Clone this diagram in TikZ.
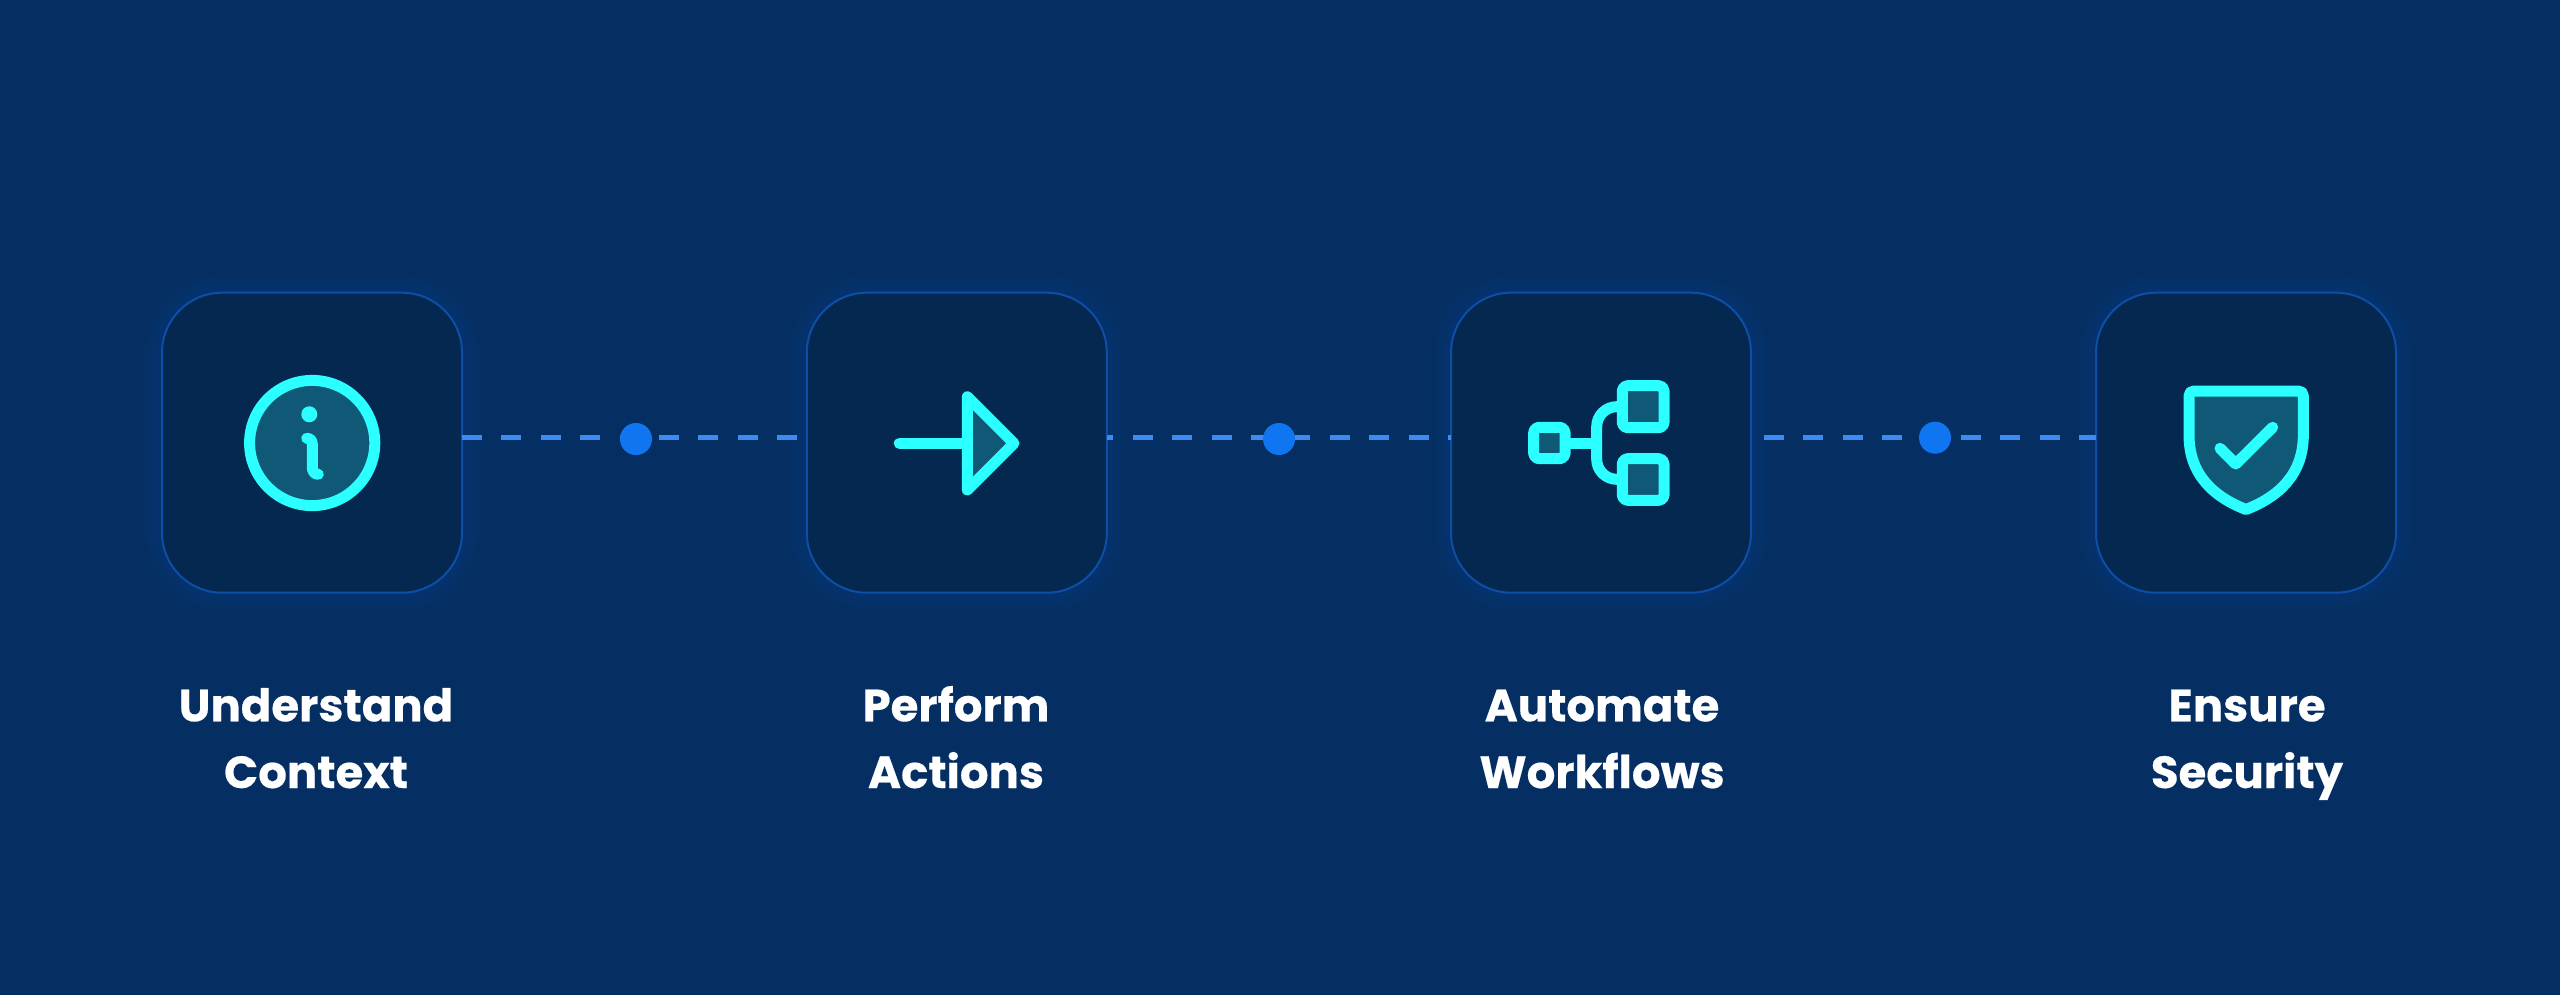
\documentclass[tikz,border=0pt]{standalone}
\usepackage{fontspec}
\setmainfont{Poppins}[BoldFeatures={FakeBold=0.4}]
\definecolor{pagebg}{HTML}{052F63}
\definecolor{tilefill}{HTML}{052850}
\definecolor{tileline}{HTML}{0D4EA6}
\definecolor{glowc}{HTML}{0A4CA8}
\definecolor{dashc}{HTML}{3D8BF0}
\definecolor{dotc}{HTML}{0F75F0}
\definecolor{iconc}{HTML}{2BFFFF}
\definecolor{icontint}{HTML}{0F5876}
\tikzset{
  tile/.style={rectangle, rounded corners=60pt, minimum width=300pt, minimum height=300pt,
    inner sep=0pt, outer sep=0pt, draw=tileline, line width=2pt, fill=tilefill,
    preaction={draw=glowc, line width=36pt, draw opacity=.05, fill opacity=0},
    preaction={draw=glowc, line width=26pt, draw opacity=.06, fill opacity=0},
    preaction={draw=glowc, line width=14pt, draw opacity=.07, fill opacity=0}},
  dashline/.style={draw=dashc, line width=5.5pt, dash pattern=on 20pt off 19.4pt},
  midpoint/.style={circle, fill=dotc, minimum size=32pt, inner sep=0pt, outer sep=0pt},
  iconline/.style={draw=iconc, line width=11pt, line cap=round, line join=round},
  iconshape/.style={iconline, fill=icontint},
  caption/.style={text=white, align=center, anchor=base, inner sep=0pt,
    font=\fontsize{45}{66.7}\selectfont\bfseries}
}
\begin{document}
\begin{tikzpicture}[x=1pt,y=-1pt]
\fill[pagebg] (0,0) rectangle (2560,995);
\useasboundingbox (0,0) rectangle (2560,995);
% tiles
\node[tile] (t1) at (312,442.7) {};
\node[tile] (t2) at (956.8,442.7) {};
\node[tile] (t3) at (1601,442.7) {};
\node[tile] (t4) at (2246,442.7) {};
% connectors
\draw[dashline] ([yshift=5pt]t1.east) -- ([yshift=5pt]t2.west);
\draw[dashline, dash phase=13.4pt] ([yshift=5pt]t2.east) -- ([yshift=5pt]t3.west);
\draw[dashline, dash phase=26.7pt] ([yshift=5pt]t3.east) -- ([yshift=5pt]t4.west);
\node[midpoint] (d1) at (636,439) {};
\node[midpoint] (d2) at (1279,439) {};
\node[midpoint] (d3) at (1935,437.7) {};
% info icon
\draw[iconshape] (312.2,443) circle[radius=62.6];
\fill[iconc] (309.3,414.3) circle[radius=8];
\draw[iconline] (306.7,438.3) .. controls (310,438.3) and (312.3,440.5) .. (312.3,444)
  -- (312.3,467) .. controls (312.3,471.5) and (314.5,474.3) .. (318.3,474.3);
% arrow icon
\draw[iconline] (899.3,443.3) -- (967.3,443.3);
\draw[iconshape] (967.3,396.7) -- (1014,443.3) -- (967.3,490) -- cycle;
% workflow icon
\draw[iconline] (1565,443.3) -- (1596.7,443.3);
\draw[iconline, line cap=butt] (1622,406.7) -- (1616.7,406.7)
  .. controls (1605.7,406.7) and (1596.7,415.7) .. (1596.7,426.7)
  -- (1596.7,459.3)
  .. controls (1596.7,470.3) and (1605.7,479.3) .. (1616.7,479.3) -- (1622,479.3);
\draw[iconshape, rounded corners=5pt] (1533.7,427.3) rectangle (1565,458.7);
\draw[iconshape, rounded corners=5pt] (1622.3,385.7) rectangle (1664,427.7);
\draw[iconshape, rounded corners=5pt] (1622.3,458.7) rectangle (1664,500.3);
% shield icon
\draw[iconshape] (2194,391) -- (2298.3,391)
  .. controls (2301.3,391) and (2303.3,393) .. (2303.3,396)
  -- (2303.3,435)
  .. controls (2303.3,475) and (2278,497) .. (2246,509.5)
  .. controls (2214,497) and (2189,475) .. (2189,435)
  -- (2189,396)
  .. controls (2189,393) and (2191,391) .. (2194,391) -- cycle;
\draw[iconline] (2220,448.3) -- (2235.7,464) -- (2272.7,427.3);
% captions
\node[caption] (c1) at (316,788) {Understand\\Context};
\node[caption] (c2) at (956,788) {Perform\\Actions};
\node[caption] (c3) at (1602,788) {Automate\\Workflows};
\node[caption] (c4) at (2247,788) {Ensure\\Security};
\end{tikzpicture}
\end{document}
